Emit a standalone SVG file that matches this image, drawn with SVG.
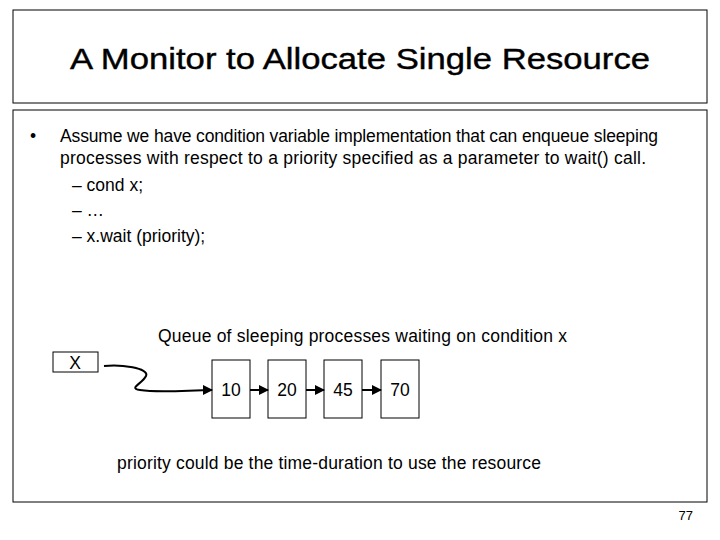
<svg xmlns="http://www.w3.org/2000/svg" width="720" height="540" viewBox="0 0 720 540">
<style>
text{font-family:"Liberation Sans",Arial,sans-serif;fill:#000}
.b{font-size:17.5px}
.box{fill:#fff;stroke:#000;stroke-width:1}
.ln{fill:none;stroke:#000;stroke-width:2}
</style>
<defs><marker id="ah" markerWidth="10" markerHeight="10" refX="9" refY="5" orient="auto" markerUnits="userSpaceOnUse"><path d="M0,0L10,5L0,10z" fill="#000"/></marker></defs>
<rect width="720" height="540" fill="#fff"/>
<g id="title"><rect class="box" x="13" y="10" width="694" height="93"/>
<text x="360" y="69" font-size="30" text-anchor="middle" textLength="580" lengthAdjust="spacingAndGlyphs" stroke="#000" stroke-width="0.4">A Monitor to Allocate Single Resource</text></g>
<g id="body"><rect class="box" x="13" y="110" width="694" height="392"/>
<text class="b" x="30" y="142">•</text>
<text class="b" x="60" y="142" textLength="598">Assume we have condition variable implementation that can enqueue sleeping</text>
<text class="b" x="60" y="164" textLength="586">processes with respect to a priority specified as a parameter to wait() call.</text>
<text class="b" x="72" y="191">– cond x;</text>
<text class="b" x="72" y="216">– …</text>
<text class="b" x="72" y="242">– x.wait (priority);</text>
<text class="b" x="158" y="342" textLength="409">Queue of sleeping processes waiting on condition x</text>
<text class="b" x="117" y="469" textLength="424">priority could be the time-duration to use the resource</text>
<text x="693" y="520" font-size="13" text-anchor="end">77</text></g>
<g id="nX"><rect class="box" x="53" y="352" width="45" height="20"/><text class="b" x="75" y="369" text-anchor="middle">X</text></g>
<g id="n10"><rect class="box" x="212" y="360" width="38" height="58"/><text class="b" x="231" y="396" text-anchor="middle">10</text></g>
<g id="n20"><rect class="box" x="268" y="360" width="38" height="58"/><text class="b" x="287" y="396" text-anchor="middle">20</text></g>
<g id="n45"><rect class="box" x="324" y="360" width="38" height="58"/><text class="b" x="343" y="396" text-anchor="middle">45</text></g>
<g id="n70"><rect class="box" x="381" y="360" width="38" height="58"/><text class="b" x="400" y="396" text-anchor="middle">70</text></g>
<g id="connectors">
<path class="ln" marker-end="url(#ah)" d="M104,366 C120,364 150,368 146,376 C142,384 128,388 140,390 C160,393 190,390 212,390"/>
<line class="ln" marker-end="url(#ah)" x1="250" y1="390" x2="268" y2="390"/>
<line class="ln" marker-end="url(#ah)" x1="306" y1="390" x2="324" y2="390"/>
<line class="ln" marker-end="url(#ah)" x1="362" y1="390" x2="381" y2="390"/>
</g>
</svg>
